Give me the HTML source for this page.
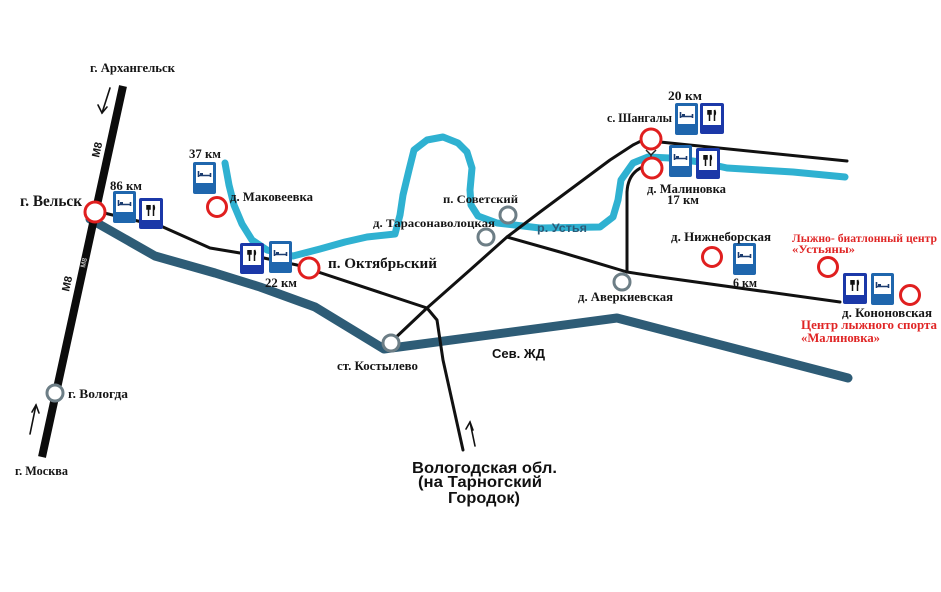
<!DOCTYPE html>
<html><head><meta charset="utf-8">
<style>
html,body{margin:0;padding:0;background:#fff;}
svg{display:block;}
.t{font-family:"Liberation Serif","Noto Serif CJK SC",serif;font-weight:bold;fill:#151515;}
.s{font-family:"Liberation Sans","Noto Sans CJK SC",sans-serif;font-weight:bold;}
.r{fill:#e02525;}
</style></head><body>
<svg width="941" height="592" viewBox="0 0 941 592" xmlns="http://www.w3.org/2000/svg">
<rect width="941" height="592" fill="#fff"/>

<!-- railway -->
<polyline points="90,219 155,256 215,273 260,287 315,307 384,349 617,318 848,378" fill="none" stroke="#2e5c76" stroke-width="9" stroke-linejoin="round" stroke-linecap="round"/>

<!-- river -->
<path d="M225,163 L229,185 L234,205 L242,224 L252,240 L267,250 L293,256 L320,249 L345,242 L367,237 L395,234 L400,215 L403,195 L409,170 L414,150 L427,140 L443,137 L458,143 L467,152 L472,168 L470,190 L471,205 L478,216 L497,223 L540,228 L600,227 L613,217 L618,200 L621,180 L633,163 L648,157 L670,158 L700,162 L727,168 L760,170 L793,172 L845,177" fill="none" stroke="#2fb1d1" stroke-width="7" stroke-linejoin="round" stroke-linecap="round"/>

<!-- M8 highway -->
<line x1="123" y1="86" x2="42" y2="457" stroke="#0c0c0c" stroke-width="8"/>

<!-- roads -->
<g fill="none" stroke="#111" stroke-width="3" stroke-linejoin="round" stroke-linecap="round">
<polyline points="100,212 163,227 210,248 240,253 297,265 427,308 437,320 443,360 463,450"/>
<polyline points="391,342 427,308 470,270 507,237 540,212 575,186 610,160 633,145 645,139 660,142 847,161"/>
<polyline points="507,237 560,252 587,260 627,272 660,277 840,302"/>
<path d="M627,272 L627,192 Q628,172 645,166"/>
</g>
<!-- bridge mark -->
<path d="M646,150 L651,155 L656,150 M651,155 L651,160 M647,160 L655,160" stroke="#222" stroke-width="1.5" fill="none"/>

<!-- arrows -->
<g stroke="#111" stroke-width="1.6" fill="none" stroke-linecap="round">
<line x1="110" y1="88" x2="102" y2="113"/><polyline points="98,105 102,113 107,107"/>
<line x1="30" y1="434" x2="36" y2="405"/><polyline points="32,412 36,405 39,413"/>
<line x1="475" y1="446" x2="470" y2="422"/><polyline points="466,429 470,422 473,430"/>
</g>

<!-- M8 labels -->
<text class="s" font-size="11" fill="#111" transform="translate(99,158) rotate(-77.6)">M8</text>
<text class="s" font-size="7" fill="#bbb" transform="translate(85,268) rotate(-77.6)">M8</text>
<text class="s" font-size="11" fill="#111" transform="translate(69,292) rotate(-77.6)">M8</text>

<!-- red circles -->
<g fill="#fff" stroke="#e01f1f" stroke-width="3">
<circle cx="95" cy="212" r="10"/>
<circle cx="217" cy="207" r="9.5"/>
<circle cx="309" cy="268" r="10"/>
<circle cx="651" cy="139" r="10"/>
<circle cx="652" cy="168" r="10"/>
<circle cx="712" cy="257" r="9.5"/>
<circle cx="828" cy="267" r="9.5"/>
<circle cx="910" cy="295" r="9.5"/>
</g>
<!-- gray circles -->
<g fill="#fff" stroke="#6d7e86" stroke-width="3">
<circle cx="508" cy="215" r="8"/>
<circle cx="486" cy="237" r="8"/>
<circle cx="622" cy="282" r="8"/>
<circle cx="391" cy="343" r="8"/>
<circle cx="55" cy="393" r="8"/>
</g>

<defs>
<g id="hotel">
<rect x="0" y="0" width="23" height="32" rx="2" fill="#1f66ad"/>
<rect x="3" y="3" width="17" height="18" fill="#fff"/>
<path d="M5.5,9 V15 M17.5,11 V15 M5.5,13.5 H17.5" stroke="#1b3c70" stroke-width="1.6" fill="none"/>
<rect x="7" y="11" width="3" height="2" fill="#1b3c70"/>
</g>
<g id="rest">
<rect x="0" y="0" width="24" height="31" rx="2" fill="#1b38a8"/>
<rect x="3" y="3" width="18" height="19" fill="#fff"/>
<path d="M9.5,7 V18 M14.5,7 V18 M8,7 V11 H11 V7 M14.5,7 Q16,9 15,12" stroke="#111" stroke-width="1.5" fill="none"/>
</g>
</defs>

<!-- signs -->
<use href="#hotel" x="113" y="191"/>
<use href="#rest" x="139" y="198"/>
<use href="#hotel" x="193" y="162"/>
<use href="#rest" x="240" y="243"/>
<use href="#hotel" x="269" y="241"/>
<use href="#hotel" x="675" y="103"/>
<use href="#rest" x="700" y="103"/>
<use href="#hotel" x="669" y="145"/>
<use href="#rest" x="696" y="148"/>
<use href="#hotel" x="733" y="243"/>
<use href="#rest" x="843" y="273"/>
<use href="#hotel" x="871" y="273"/>

<!-- labels -->
<text class="t" x="90" y="72" font-size="13" textLength="85" lengthAdjust="spacingAndGlyphs">г. Архангельск</text>
<text class="t" x="20" y="206" font-size="16" textLength="62" lengthAdjust="spacingAndGlyphs">г. Вельск</text>
<text class="t" x="110" y="190" font-size="13" textLength="32" lengthAdjust="spacingAndGlyphs">86 км</text>
<text class="t" x="189" y="158" font-size="13" textLength="32" lengthAdjust="spacingAndGlyphs">37 км</text>
<text class="t" x="230" y="201" font-size="12.5" textLength="83" lengthAdjust="spacingAndGlyphs">д. Маковеевка</text>
<text class="t" x="265" y="287" font-size="13" textLength="32" lengthAdjust="spacingAndGlyphs">22 км</text>
<text class="t" x="328" y="268" font-size="15" textLength="109" lengthAdjust="spacingAndGlyphs">п. Октябрьский</text>
<text class="t" x="443" y="203" font-size="12" textLength="75" lengthAdjust="spacingAndGlyphs">п. Советский</text>
<text class="t" x="373" y="227" font-size="12" textLength="122" lengthAdjust="spacingAndGlyphs">д. Тарасонаволоцкая</text>
<text class="s" x="537" y="232" font-size="12" fill="#2b5b78" textLength="50" lengthAdjust="spacingAndGlyphs">р. Устья</text>
<text class="t" x="337" y="370" font-size="12.5" textLength="81" lengthAdjust="spacingAndGlyphs">ст. Костылево</text>
<text class="s" x="492" y="358" font-size="12.5" fill="#111" textLength="53" lengthAdjust="spacingAndGlyphs">Сев. ЖД</text>
<text class="s" x="412" y="473" font-size="15.5" fill="#111" textLength="145" lengthAdjust="spacingAndGlyphs">Вологодская обл.</text>
<text class="s" x="418" y="487" font-size="15.5" fill="#111" textLength="124" lengthAdjust="spacingAndGlyphs">(на Тарногский</text>
<text class="s" x="448" y="503" font-size="15.5" fill="#111" textLength="72" lengthAdjust="spacingAndGlyphs">Городок)</text>
<text class="t" x="607" y="122" font-size="12.5" textLength="65" lengthAdjust="spacingAndGlyphs">с. Шангалы</text>
<text class="t" x="668" y="100" font-size="12.5" textLength="34" lengthAdjust="spacingAndGlyphs">20 км</text>
<text class="t" x="647" y="193" font-size="12.5" textLength="79" lengthAdjust="spacingAndGlyphs">д. Малиновка</text>
<text class="t" x="667" y="204" font-size="12.5" textLength="32" lengthAdjust="spacingAndGlyphs">17 км</text>
<text class="t" x="671" y="241" font-size="12.5" textLength="100" lengthAdjust="spacingAndGlyphs">д. Нижнеборская</text>
<text class="t" x="733" y="287" font-size="12.5" textLength="24" lengthAdjust="spacingAndGlyphs">6 км</text>
<text class="t" x="578" y="301" font-size="12.5" textLength="95" lengthAdjust="spacingAndGlyphs">д. Аверкиевская</text>
<text class="t r" x="792" y="242" font-size="12" textLength="145" lengthAdjust="spacingAndGlyphs">Лыжно- биатлонный центр</text>
<text class="t r" x="792" y="253" font-size="12" textLength="63" lengthAdjust="spacingAndGlyphs">«Устьяны»</text>
<text class="t" x="842" y="317" font-size="12.5" textLength="90" lengthAdjust="spacingAndGlyphs">д. Кононовская</text>
<text class="t r" x="801" y="329" font-size="12.5" textLength="136" lengthAdjust="spacingAndGlyphs">Центр лыжного спорта</text>
<text class="t r" x="801" y="342" font-size="12.5" textLength="79" lengthAdjust="spacingAndGlyphs">«Малиновка»</text>
<text class="t" x="68" y="398" font-size="12.5" textLength="60" lengthAdjust="spacingAndGlyphs">г. Вологда</text>
<text class="t" x="15" y="475" font-size="12.5" textLength="53" lengthAdjust="spacingAndGlyphs">г. Москва</text>
</svg>
</body></html>
